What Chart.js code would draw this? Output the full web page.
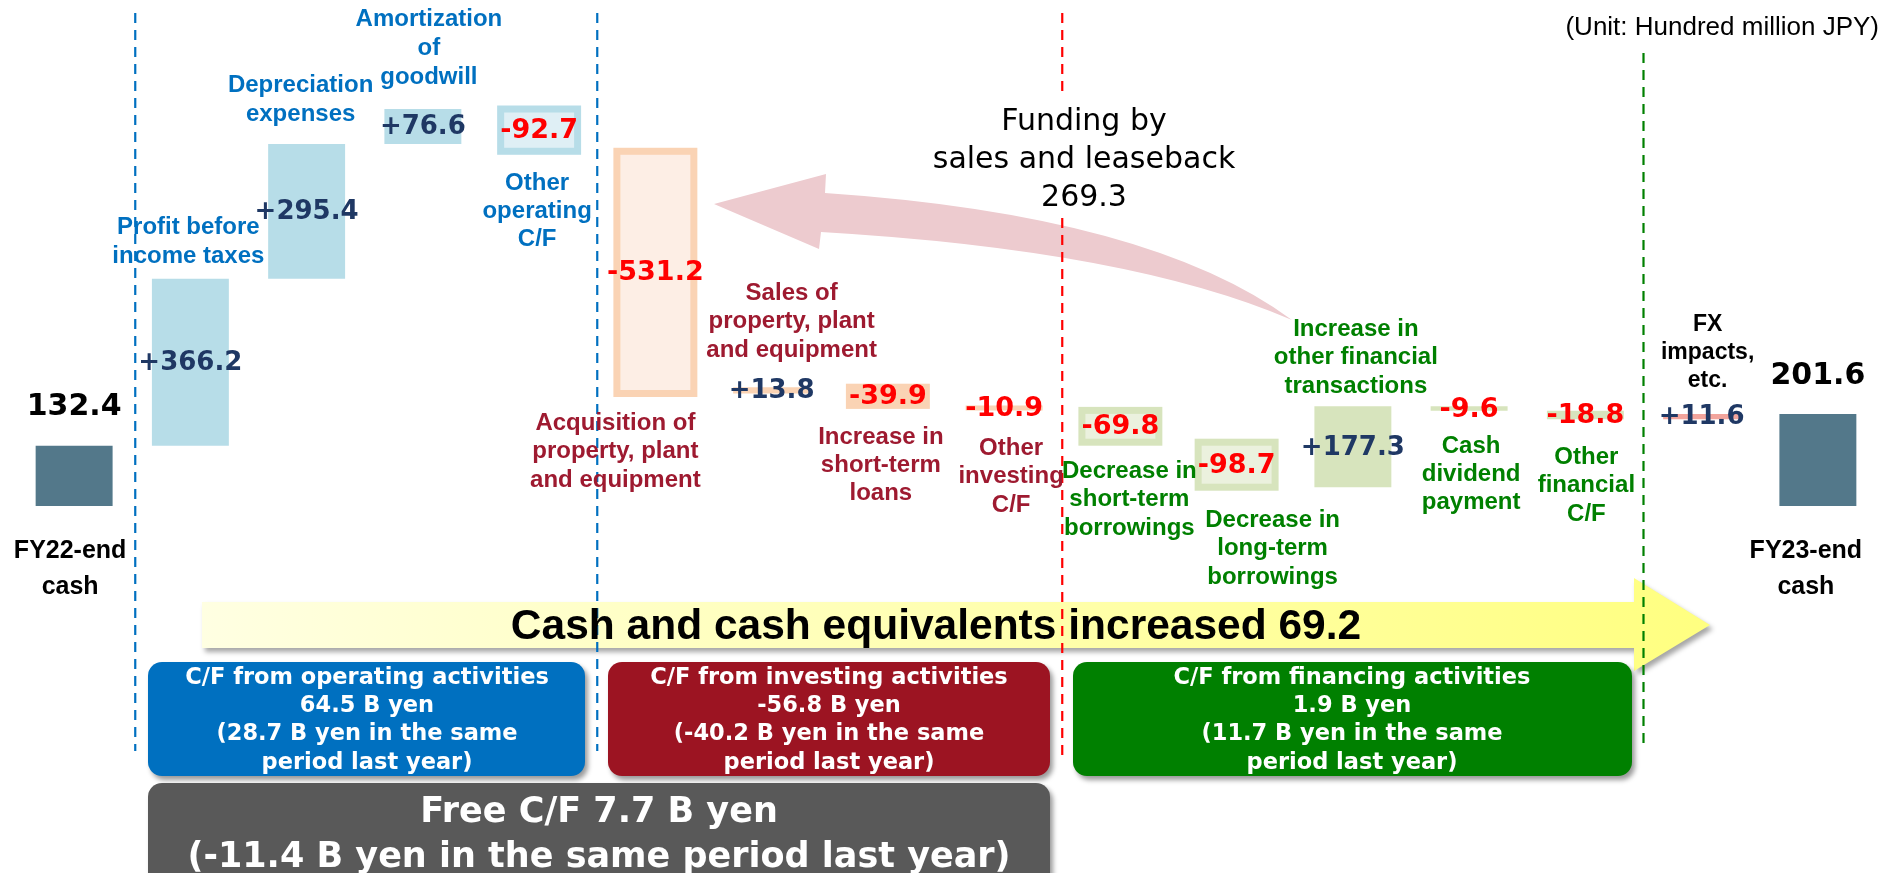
<!DOCTYPE html>
<html><head><meta charset="utf-8">
<script src="https://cdn.jsdelivr.net/npm/chart.js@4.4.0/dist/chart.umd.min.js"></script>
<style>html,body{margin:0;padding:0;background:#fff;overflow:hidden}canvas{display:block}</style>
</head><body>
<canvas id="c" width="1881" height="873"></canvas>
<script>
// ---------------- data ----------------
const categories = [
  ["FY22-end","cash"],
  ["Profit before","income taxes"],
  ["Depreciation","expenses"],
  ["Amortization","of","goodwill"],
  ["Other","operating","C/F"],
  ["Acquisition of","property, plant","and equipment"],
  ["Sales of","property, plant","and equipment"],
  ["Increase in","short-term","loans"],
  ["Other","investing","C/F"],
  ["Decrease in","short-term","borrowings"],
  ["Decrease in","long-term","borrowings"],
  ["Increase in","other financial","transactions"],
  ["Cash","dividend","payment"],
  ["Other","financial","C/F"],
  ["FX","impacts,","etc."],
  ["FY23-end","cash"]
];
const startCash = 132.4;
const endCash = 201.6;
const changes = [366.2, 295.4, 76.6, -92.7, -531.2, 13.8, -39.9, -10.9, -69.8, -98.7, 177.3, -9.6, -18.8, 11.6];
const groups = ["cash","op","op","op","op","inv","inv","inv","inv","fin","fin","fin","fin","fin","fx","cash"];
const sectionTitles = ["C/F from operating activities","C/F from investing activities","C/F from financing activities"];
const sectionValues = ["64.5 B yen","-56.8 B yen","1.9 B yen"];
const sectionPrev = [["(28.7 B yen in the same","period last year)"],["(-40.2 B yen in the same","period last year)"],["(11.7 B yen in the same","period last year)"]];
const freeCF = ["Free C/F 7.7 B yen","(-11.4 B yen in the same period last year)"];
const totalChangeText = "Cash and cash equivalents increased 69.2";
const fundingNote = ["Funding by","sales and leaseback","269.3"];
const unitNote = "(Unit: Hundred million JPY)";

// floating bars built from the values
const floating = [[0, startCash]];
let run = startCash;
changes.forEach(c => { const s = run; run = Math.round((run + c) * 10) / 10; floating.push([s, run]); });
floating.push([0, endCash]);
const valueText = [startCash.toFixed(1)].concat(changes.map(c => (c > 0 ? "+" : "") + c.toFixed(1))).concat([endCash.toFixed(1)]);

// ---------------- styles ----------------
const fills   = ['#53788A','#B7DDE8','#B7DDE8','#B7DDE8','#DFEFF5','#FDEEE5','#FAD3B4','#FAD3B4','#FAD3B4','#EBF1DE','#EBF1DE','#D7E4BD','#D7E4BD','#D7E4BD','#F2A49C','#53788A'];
const outlines = [null,null,null,null,'#B7DDE8','#FAD3B4',null,'#FAD3B4',null,'#D7E4BD','#D7E4BD',null,null,null,null,null];
const groupColor = {cash:'#000000', op:'#0070C0', inv:'#9E1A30', fin:'#008000', fx:'#000000'};
// label layout: [dx from bar centre, y of first line, line height]
const labelLayout = [[-4,551,36],[-2,227,29],[-6,85,29],[6,19,29],[-2,183,28],[-40,423,28.5],[20,293,28.5],[-7,437,28],[7,448,28.5],[9,471,28.5],[36,520,28.5],[3,329,28.5],[2,446,28],[1,457,28.5],[6,325,28],[-12,551,36]];

function txt(ctx, s, x, y, font, color, align) {
  ctx.font = font; ctx.fillStyle = color; ctx.textAlign = align || 'center'; ctx.textBaseline = 'middle';
  ctx.fillText(s, x, y);
}
function dashed(ctx, x, y1, y2, color) {
  ctx.save(); ctx.strokeStyle = color; ctx.lineWidth = 2.2; ctx.setLineDash([10, 7]);
  ctx.beginPath(); ctx.moveTo(x, y1); ctx.lineTo(x, y2); ctx.stroke(); ctx.restore();
}

const overlay = {
  id: 'overlay',
  beforeDatasetsDraw(chart) {
    const ctx = chart.ctx, xs = chart.scales.x;
    const mid = i => (xs.getPixelForValue(i) + xs.getPixelForValue(i + 1)) / 2;
    // curved pink arrow (sales and leaseback)
    ctx.save();
    ctx.beginPath();
    ctx.moveTo(714, 204); ctx.lineTo(826, 174); ctx.lineTo(825, 193);
    ctx.quadraticCurveTo(1150, 215, 1292, 320);
    ctx.quadraticCurveTo(1130, 250, 821, 232);
    ctx.lineTo(819, 249); ctx.closePath();
    ctx.fillStyle = '#EDCBCF'; ctx.fill();
    ctx.restore();
    // yellow arrow
    ctx.save();
    ctx.shadowColor = 'rgba(0,0,0,0.35)'; ctx.shadowBlur = 5; ctx.shadowOffsetX = 3; ctx.shadowOffsetY = 4;
    const g = ctx.createLinearGradient(202, 0, 1710, 0);
    g.addColorStop(0, '#FFFFE2'); g.addColorStop(1, '#FFFF80');
    ctx.beginPath();
    ctx.moveTo(202, 602); ctx.lineTo(1634, 602); ctx.lineTo(1634, 578); ctx.lineTo(1710, 625);
    ctx.lineTo(1634, 671); ctx.lineTo(1634, 648); ctx.lineTo(202, 648); ctx.closePath();
    ctx.fillStyle = g; ctx.fill();
    ctx.restore();
    // section boxes
    const boxes = [[148, 585, '#0070C0'], [608, 1050, '#9C1422'], [1073, 1632, '#008000']];
    ctx.save();
    ctx.shadowColor = 'rgba(0,0,0,0.4)'; ctx.shadowBlur = 5; ctx.shadowOffsetX = 3; ctx.shadowOffsetY = 4;
    boxes.forEach(b => { ctx.beginPath(); ctx.roundRect(b[0], 662, b[1] - b[0], 114, 14); ctx.fillStyle = b[2]; ctx.fill(); });
    ctx.beginPath(); ctx.roundRect(148, 783, 902, 130, 14); ctx.fillStyle = '#595959'; ctx.fill();
    ctx.restore();
    // dashed separators
    dashed(ctx, mid(0) + 3, 13, 751, '#0070C0');
    dashed(ctx, mid(4), 13, 751, '#0070C0');
    dashed(ctx, mid(8), 13, 97, '#FF0000');
    dashed(ctx, mid(8), 218, 755, '#FF0000');
    dashed(ctx, mid(13), 53, 750, '#008000');
  },
  afterDatasetsDraw(chart) {
    const ctx = chart.ctx, xs = chart.scales.x, ys = chart.scales.y;
    // outlined bars (border straddles the bar edge)
    const meta = chart.getDatasetMeta(0);
    meta.data.forEach((el, i) => {
      if (!outlines[i]) return;
      const p = el.getProps(['x', 'y', 'base', 'width'], true);
      const top = Math.min(p.y, p.base), h = Math.abs(p.base - p.y);
      ctx.save(); ctx.strokeStyle = outlines[i]; ctx.lineWidth = 7;
      ctx.strokeRect(p.x - p.width / 2, top, p.width, h); ctx.restore();
    });
    // category labels
    categories.forEach((lines, i) => {
      const L = labelLayout[i];
      const x = xs.getPixelForValue(i) + L[0];
      const size = groups[i] === 'cash' ? 25 : (groups[i] === 'fx' ? 23 : 24);
      lines.forEach((s, k) => txt(ctx, s, x, L[1] + k * L[2], 'bold ' + size + 'px "Liberation Sans", Arial, sans-serif', groupColor[groups[i]]));
    });
    // value labels
    floating.forEach((d, i) => {
      const x = xs.getPixelForValue(i);
      if (groups[i] === 'cash') {
        txt(ctx, valueText[i], x, ys.getPixelForValue(d[1]) - 38, 'bold 30px "DejaVu Sans", Verdana, sans-serif', '#000');
      } else {
        const y = (ys.getPixelForValue(d[0]) + ys.getPixelForValue(d[1])) / 2 + 1;
        const neg = changes[i - 1] < 0;
        txt(ctx, valueText[i], x, y, 'bold ' + (neg ? 27 : 26) + 'px "DejaVu Sans", Verdana, sans-serif', neg ? '#FF0000' : '#1F3864');
      }
    });
    // funding note
    fundingNote.forEach((s, k) => txt(ctx, s, 1084, 122 + k * 38, '30px "DejaVu Sans", Tahoma, sans-serif', '#000'));
    // unit
    txt(ctx, unitNote, 1879, 28, '26px "Liberation Sans", Arial, sans-serif', '#000', 'right');
    // yellow arrow text
    txt(ctx, totalChangeText, 936, 627, 'bold 42.5px "Liberation Sans", Arial, sans-serif', '#000');
    // section box texts
    const centers = [367, 829, 1352];
    centers.forEach((cx, j) => {
      const lines = [sectionTitles[j], sectionValues[j]].concat(sectionPrev[j]);
      lines.forEach((s, k) => txt(ctx, s, cx, 678 + k * 28.3, 'bold 22.5px "DejaVu Sans", Verdana, sans-serif', '#fff'));
    });
    freeCF.forEach((s, k) => txt(ctx, s, 599, 813 + k * 45, 'bold 35px "DejaVu Sans", Verdana, sans-serif', '#fff'));
  }
};

new Chart(document.getElementById('c'), {
  type: 'bar',
  data: {
    labels: categories.map(c => c.join(' ')),
    datasets: [{
      data: floating,
      backgroundColor: fills,
      borderWidth: 0,
      barPercentage: 0.662,
      categoryPercentage: 1.0
    }]
  },
  options: {
    responsive: false,
    devicePixelRatio: 1,
    animation: false,
    events: [],
    layout: { padding: { left: 16, right: 5, top: 50, bottom: 367 } },
    plugins: { legend: { display: false }, tooltip: { enabled: false } },
    scales: {
      x: { display: false },
      y: { display: false, min: 0, max: 1000 }
    }
  },
  plugins: [overlay]
});
</script>
</body></html>
